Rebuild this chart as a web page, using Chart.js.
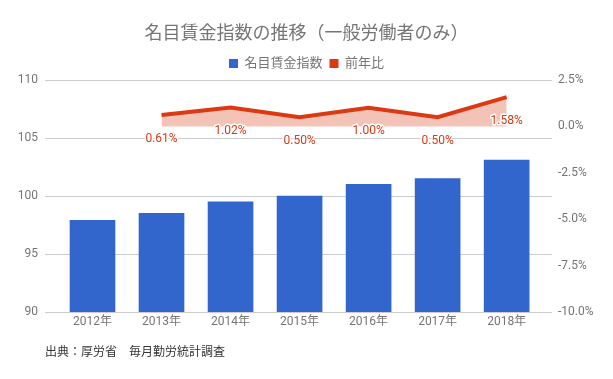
<!DOCTYPE html>
<html>
<head>
<meta charset="utf-8">
<script src="https://cdn.jsdelivr.net/npm/chart.js@4"></script>
<style>
  html, body { margin: 0; padding: 0; background: #fff; }
  #wrap { width: 613px; height: 379px; }
</style>
</head>
<body>
<div id="wrap"><canvas id="c" width="613" height="379"></canvas></div>
<script>
const categories = ['2012年', '2013年', '2014年', '2015年', '2016年', '2017年', '2018年'];
const wageIndex = [97.9, 98.5, 99.5, 100.0, 101.0, 101.5, 103.1];
const yoyPct = [null, 0.61, 1.02, 0.50, 1.00, 0.50, 1.58];
const leftTicks = [90, 95, 100, 105, 110];
const rightTicks = [-10, -7.5, -5, -2.5, 0, 2.5];
const seriesNames = ['名目賃金指数', '前年比'];
const titleText = '名目賃金指数の推移（一般労働者のみ）';
const sourceText = '出典：厚労省　毎月勤労統計調査';

const BLUE = '#3366cc';
const RED = '#dc3912';
const FONT = "Roboto, 'Noto Sans CJK JP', 'Noto Sans', sans-serif";
const GRAY = '#757575';

const barData = categories.map((c, i) => ({ x: i, y: wageIndex[i] }));
const lineData = categories.map((c, i) => ({ x: i, y: yoyPct[i] })).filter(p => p.y !== null);

const labelPlugin = {
  id: 'pctLabels',
  afterDatasetsDraw(chart) {
    const meta = chart.getDatasetMeta(1);
    const ctx = chart.ctx;
    ctx.save();
    ctx.font = '12px ' + FONT;
    ctx.textAlign = 'center';
    ctx.textBaseline = 'middle';
    ctx.lineJoin = 'round';
    meta.data.forEach((pt, i) => {
      const v = lineData[i].y;
      const t = v.toFixed(2) + '%';
      ctx.strokeStyle = '#ffffff';
      ctx.lineWidth = 3;
      ctx.strokeText(t, pt.x, pt.y + 23.5);
      ctx.fillStyle = RED;
      ctx.fillText(t, pt.x, pt.y + 23.5);
    });
    ctx.restore();
  }
};

new Chart(document.getElementById('c'), {
  data: {
    datasets: [
      {
        type: 'bar',
        label: seriesNames[0],
        data: barData,
        backgroundColor: BLUE,
        barThickness: 45,
        yAxisID: 'y',
        order: 1
      },
      {
        type: 'line',
        label: seriesNames[1],
        data: lineData,
        borderColor: RED,
        backgroundColor: 'rgba(220,57,18,0.3)',
        borderWidth: 4,
        pointRadius: 0,
        tension: 0,
        fill: 'origin',
        yAxisID: 'y2',
        order: 0
      }
    ]
  },
  options: {
    responsive: false,
    animation: false,
    devicePixelRatio: 1,
    layout: { padding: 0 },
    plugins: {
      tooltip: { enabled: false },
      title: {
        display: true,
        text: titleText,
        color: GRAY,
        font: { family: FONT, size: 18, weight: 'normal', lineHeight: 1.2 },
        padding: { top: 17.2, bottom: 4.7 }
      },
      subtitle: {
        display: true,
        text: sourceText,
        position: 'bottom',
        align: 'start',
        fullSize: false,
        color: '#333333',
        font: { family: FONT, size: 12, weight: 'normal', lineHeight: 1.2 },
        padding: { top: 0, bottom: 18.8 }
      },
      legend: {
        display: true,
        position: 'top',
        labels: {
          boxWidth: 9,
          boxHeight: 9,
          padding: 7,
          color: GRAY,
          font: { family: FONT, size: 13 },
          generateLabels: (chart) => chart.data.datasets.map((ds, i) => ({
            text: ds.label,
            fillStyle: i === 0 ? BLUE : RED,
            strokeStyle: i === 0 ? BLUE : RED,
            fontColor: GRAY,
            lineWidth: 0,
            hidden: false,
            datasetIndex: i
          }))
        }
      }
    },
    scales: {
      x: {
        type: 'linear',
        offset: false,
        min: -0.688,
        max: 6.657,
        grid: { display: false, drawTicks: false, offset: false },
        border: { display: false },
        afterBuildTicks: (s) => { s.ticks = categories.map((c, i) => ({ value: i })); },
        afterFit: (s) => { s.height = 33.8; },
        ticks: {
          autoSkip: false,
          maxRotation: 0,
          padding: 3,
          color: GRAY,
          font: { family: FONT, size: 12 },
          callback: (v) => categories[v]
        }
      },
      y: {
        type: 'linear',
        position: 'left',
        min: 90,
        max: 110,
        grid: { color: '#cccccc', drawTicks: false },
        border: { display: false },
        afterBuildTicks: (s) => { s.ticks = leftTicks.map(v => ({ value: v })); },
        afterFit: (s) => { s.width = 45; s.paddingTop = 80; },
        ticks: {
          padding: 7,
          color: GRAY,
          font: { family: FONT, size: 12 },
          callback: (v) => String(v)
        }
      },
      y2: {
        type: 'linear',
        position: 'right',
        min: -10,
        max: 2.5,
        grid: { display: false, drawTicks: false },
        border: { display: false },
        afterBuildTicks: (s) => { s.ticks = rightTicks.map(v => ({ value: v })); },
        afterFit: (s) => { s.width = 61; },
        ticks: {
          padding: 6,
          color: GRAY,
          font: { family: FONT, size: 12 },
          callback: (v) => v.toFixed(1) + '%'
        }
      }
    }
  },
  plugins: [labelPlugin]
});
</script>
</body>
</html>
